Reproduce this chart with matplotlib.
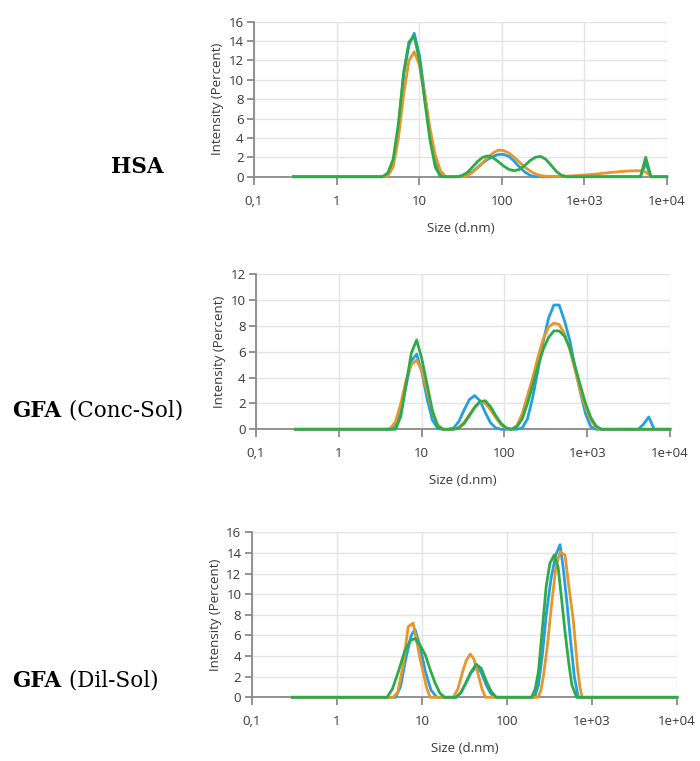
import matplotlib.pyplot as plt

# --- HSA ---
hsa_blue_x = [0.3, 3.615, 4.187, 4.849, 5.615, 6.503, 7.531, 8.721, 10.10, 11.70, 13.54, 15.69, 18.17, 21.04,
              32.67, 37.84, 43.82, 50.75, 58.77, 68.06, 78.82, 91.28, 105.7, 122.4, 141.8, 164.2, 190.1, 220.2, 255.0,
              4801, 5560, 6439, 10000]
hsa_blue_y = [0, 0, 0.3, 1.5, 5.0, 10.5, 13.6, 14.8, 12.5, 8.5, 4.5, 1.5, 0.2, 0,
              0, 0.15, 0.5, 0.95, 1.4, 1.8, 2.1, 2.3, 2.3, 2.1, 1.6, 1.0, 0.5, 0.15, 0,
              0, 1.4, 0, 0]
hsa_orange_x = [0.3, 3.615, 4.187, 4.849, 5.615, 6.503, 7.531, 8.721, 10.10, 11.70, 13.54, 15.69, 18.17, 21.04,
                32.67, 37.84, 43.82, 50.75, 58.77, 68.06, 78.82, 91.28, 105.7, 122.4, 141.8, 164.2, 190.1, 220.2, 255.0,
                295.3, 342.0, 458.7, 615.1, 825.0, 1106, 1484, 1990, 2669, 3580, 4801, 5560, 6439, 10000]
hsa_orange_y = [0, 0, 0.1, 1.0, 4.0, 8.5, 12.0, 12.9, 11.5, 8.5, 5.0, 2.2, 0.6, 0,
                0, 0.1, 0.4, 0.9, 1.45, 2.0, 2.45, 2.75, 2.7, 2.45, 2.0, 1.5, 1.0, 0.6, 0.3,
                0.12, 0.05, 0.03, 0.06, 0.12, 0.2, 0.3, 0.42, 0.52, 0.6, 0.62, 0.5, 0, 0]
hsa_green_x = [0.3, 3.615, 4.187, 4.849, 5.615, 6.503, 7.531, 8.721, 10.10, 11.70, 13.54, 15.69, 18.17,
               28.21, 32.67, 37.84, 43.82, 50.75, 58.77, 68.06, 78.82, 91.28, 105.7, 122.4, 141.8, 164.2, 190.1,
               220.2, 255.0, 295.3, 342.0, 396.1, 458.7, 531.2, 615.1, 4801, 5560, 6439, 10000]
hsa_green_y = [0, 0, 0.4, 1.8, 5.5, 10.8, 13.9, 14.5, 12.0, 7.8, 3.8, 1.0, 0,
               0, 0.1, 0.4, 0.95, 1.55, 2.0, 2.15, 1.95, 1.55, 1.1, 0.75, 0.62, 0.75, 1.15,
               1.65, 2.0, 2.1, 1.8, 1.2, 0.55, 0.15, 0, 0, 2.0, 0, 0]

# --- GFA (Conc-Sol) ---
conc_blue_x = [0.3, 4.187, 4.849, 5.615, 6.503, 7.531, 8.721, 10.10, 11.70, 13.54, 15.69, 18.17,
               21.04, 24.36, 28.21, 32.67, 37.84, 43.82, 50.75, 58.77, 68.06, 78.82, 91.28,
               141.8, 164.2, 190.1, 220.2, 255.0, 295.3, 342.0, 396.1, 458.7, 531.2, 615.1, 712.4, 825.0, 955.4,
               1106, 1281, 4145, 4801, 5560, 6439, 10000]
conc_blue_y = [0, 0, 0.2, 1.3, 3.4, 5.3, 5.8, 4.4, 2.3, 0.7, 0.05, 0,
               0, 0.1, 0.6, 1.5, 2.3, 2.6, 2.2, 1.3, 0.5, 0.1, 0,
               0, 0.1, 0.8, 2.5, 4.6, 6.8, 8.6, 9.6, 9.6, 8.4, 6.9, 4.8, 2.9, 1.2,
               0.2, 0, 0, 0.4, 0.95, 0, 0]
conc_orange_x = [0.3, 3.615, 4.187, 4.849, 5.615, 6.503, 7.531, 8.721, 10.10, 11.70, 13.54, 15.69, 18.17,
                 24.36, 28.21, 32.67, 37.84, 43.82, 50.75, 58.77, 68.06, 78.82, 91.28, 105.7,
                 122.4, 141.8, 164.2, 190.1, 220.2, 255.0, 295.3, 342.0, 396.1, 458.7, 531.2, 615.1, 712.4, 825.0,
                 955.4, 1106, 1281, 1484, 10000]
conc_orange_y = [0, 0, 0.05, 0.6, 2.0, 3.8, 5.0, 5.35, 4.5, 2.9, 1.3, 0.35, 0,
                 0, 0.15, 0.55, 1.15, 1.7, 2.1, 2.0, 1.5, 0.9, 0.35, 0.05,
                 0, 0.3, 1.2, 2.6, 4.0, 5.6, 7.0, 7.9, 8.2, 8.1, 7.4, 6.2, 4.6, 3.0,
                 1.7, 0.7, 0.15, 0, 0]
conc_green_x = [0.3, 4.849, 5.615, 6.503, 7.531, 8.721, 10.10, 11.70, 13.54, 15.69, 18.17,
                24.36, 28.21, 32.67, 37.84, 43.82, 50.75, 58.77, 68.06, 78.82, 91.28, 105.7,
                122.4, 141.8, 164.2, 190.1, 220.2, 255.0, 295.3, 342.0, 396.1, 458.7, 531.2, 615.1, 712.4, 825.0,
                955.4, 1106, 1281, 1484, 10000]
conc_green_y = [0, 0, 1.0, 3.5, 5.9, 6.9, 5.4, 3.4, 1.4, 0.2, 0,
                0, 0.1, 0.45, 1.05, 1.7, 2.15, 2.2, 1.75, 1.05, 0.45, 0.1,
                0, 0.2, 0.8, 2.0, 3.4, 4.9, 6.2, 7.1, 7.6, 7.6, 7.2, 6.3, 4.9, 3.4,
                2.0, 0.9, 0.25, 0, 0]

# --- GFA (Dil-Sol) ---
dil_blue_x = [0.3, 4.9, 5.6, 6.5, 7.5, 8.3, 9.5, 11.0, 12.8, 15.0,
              25.5, 29, 33, 38, 44, 50, 57, 64, 72,
              212, 235, 260, 290, 330, 375, 421, 460, 510, 560, 620, 690, 10000]
dil_blue_y = [0, 0, 1.0, 3.8, 6.0, 6.6, 5.0, 2.5, 0.7, 0,
              0, 0.5, 1.4, 2.4, 2.97, 2.4, 1.2, 0.4, 0,
              0, 1.2, 4.0, 8.0, 11.5, 13.8, 14.8, 12.5, 9.0, 5.5, 2.0, 0, 0]
dil_orange_x = [0.3, 4.6, 5.2, 6.0, 6.9, 7.9, 9.5, 11.4, 12.5,
                23.4, 26.5, 30, 33, 37, 41, 46, 51, 56,
                232, 250, 268, 298, 336, 375, 420, 482, 530, 603, 680, 725, 765, 10000]
dil_orange_y = [0, 0, 0.5, 3.0, 6.85, 7.2, 3.8, 0.9, 0,
                0, 0.8, 2.4, 3.5, 4.2, 3.7, 2.2, 0.8, 0,
                0, 0.6, 2.0, 4.9, 9.1, 12.5, 14.1, 13.8, 11.0, 7.5, 2.65, 0.9, 0, 0]
dil_green_x = [0.3, 3.9, 4.5, 5.3, 6.3, 7.3, 8.3, 9.6, 11.0, 12.5, 14.3, 16.3, 18.5,
               25, 28.5, 32.5, 37.5, 43.5, 50, 57, 65, 75,
               195, 215, 235, 260, 290, 320, 360, 400, 440, 480, 530, 580, 660, 10000]
dil_green_y = [0, 0, 0.8, 2.5, 4.5, 5.5, 5.7, 5.0, 4.1, 2.7, 1.4, 0.4, 0,
               0, 0.4, 1.3, 2.4, 3.2, 2.8, 1.6, 0.6, 0,
               0, 0.8, 2.5, 6.5, 10.8, 13.0, 13.8, 12.6, 9.5, 6.5, 3.5, 1.2, 0, 0]

x_ticks = [0.1, 1, 10, 100, 1000, 10000]
x_ticklabels = ['0,1', '1', '10', '100', '1e+03', '1e+04']

BLUE = '#22a0e2'
ORANGE = '#e8962c'
GREEN = '#2eaa48'
TXT = '#383838'
AX_GRAY = '#8a8a8a'
GRID = '#e4e4e4'
UI_FONT = 'Open Sans'


def draw_panel(ax, blue, orange, green, ymax):
    for (xs, ys), c in zip([blue, orange, green], [BLUE, ORANGE, GREEN]):
        ax.plot(xs, ys, color=c, lw=2.0, clip_on=False, zorder=3, solid_joinstyle='round')
    ax.set_xscale('log')
    ax.set_xlim(0.1, 10000)
    ax.set_ylim(0, ymax)
    ax.set_xticks(x_ticks)
    ax.set_xticklabels(x_ticklabels)
    ax.xaxis.set_minor_locator(plt.NullLocator())
    ax.set_yticks(range(0, ymax + 1, 2))
    ax.grid(True, color=GRID, lw=1.0, zorder=0)
    for s in ['top', 'right']:
        ax.spines[s].set_visible(False)
    for s in ['left', 'bottom']:
        ax.spines[s].set_color(AX_GRAY)
        ax.spines[s].set_linewidth(1.3)
    ax.tick_params(axis='x', colors=AX_GRAY, labelcolor=TXT, length=6, width=1.3, pad=7, labelsize=9.5)
    ax.tick_params(axis='y', colors=AX_GRAY, labelcolor=TXT, length=5, width=1.3, pad=2.5, labelsize=9.5)
    for lbl in ax.get_xticklabels() + ax.get_yticklabels():
        lbl.set_fontfamily(UI_FONT)
    ax.set_xlabel('Size (d.nm)', fontsize=9.5, color=TXT, family=UI_FONT, labelpad=10)
    ax.set_ylabel('Intensity (Percent)', fontsize=9.5, color=TXT, family=UI_FONT, labelpad=3)


fig = plt.figure(figsize=(7, 7.61), dpi=100)
ax1 = fig.add_axes([0.3629, 0.7678, 0.5896, 0.2037])
ax2 = fig.add_axes([0.3657, 0.4359, 0.5914, 0.2041])
ax3 = fig.add_axes([0.3596, 0.0837, 0.6076, 0.2168])

draw_panel(ax1, (hsa_blue_x, hsa_blue_y), (hsa_orange_x, hsa_orange_y), (hsa_green_x, hsa_green_y), 16)
draw_panel(ax2, (conc_blue_x, conc_blue_y), (conc_orange_x, conc_orange_y), (conc_green_x, conc_green_y), 12)
draw_panel(ax3, (dil_blue_x, dil_blue_y), (dil_orange_x, dil_orange_y), (dil_green_x, dil_green_y), 16)

# sample names on the left, bold part + normal part
SERIF = 'DejaVu Serif'
fig.text(0.158, 0.7727, 'HSA', fontsize=15.5, weight='bold', family=SERIF, va='baseline', ha='left')
names = [('GFA', ' (Conc-Sol)', 0.4524), ('GFA', ' (Dil-Sol)', 0.0976)]
bold_txt = []
for b, rest, y in names:
    t = fig.text(0.018, y, b, fontsize=15.5, weight='bold', family=SERIF, va='baseline', ha='left')
    bold_txt.append((t, rest, y))

fig.canvas.draw()
for t, rest, y in bold_txt:
    bb = t.get_window_extent()
    x1 = fig.transFigure.inverted().transform((bb.x1, bb.y0))[0]
    fig.text(x1, y, rest, fontsize=15.5, family=SERIF, va='baseline', ha='left')

fig.savefig('out.png', dpi=100)
